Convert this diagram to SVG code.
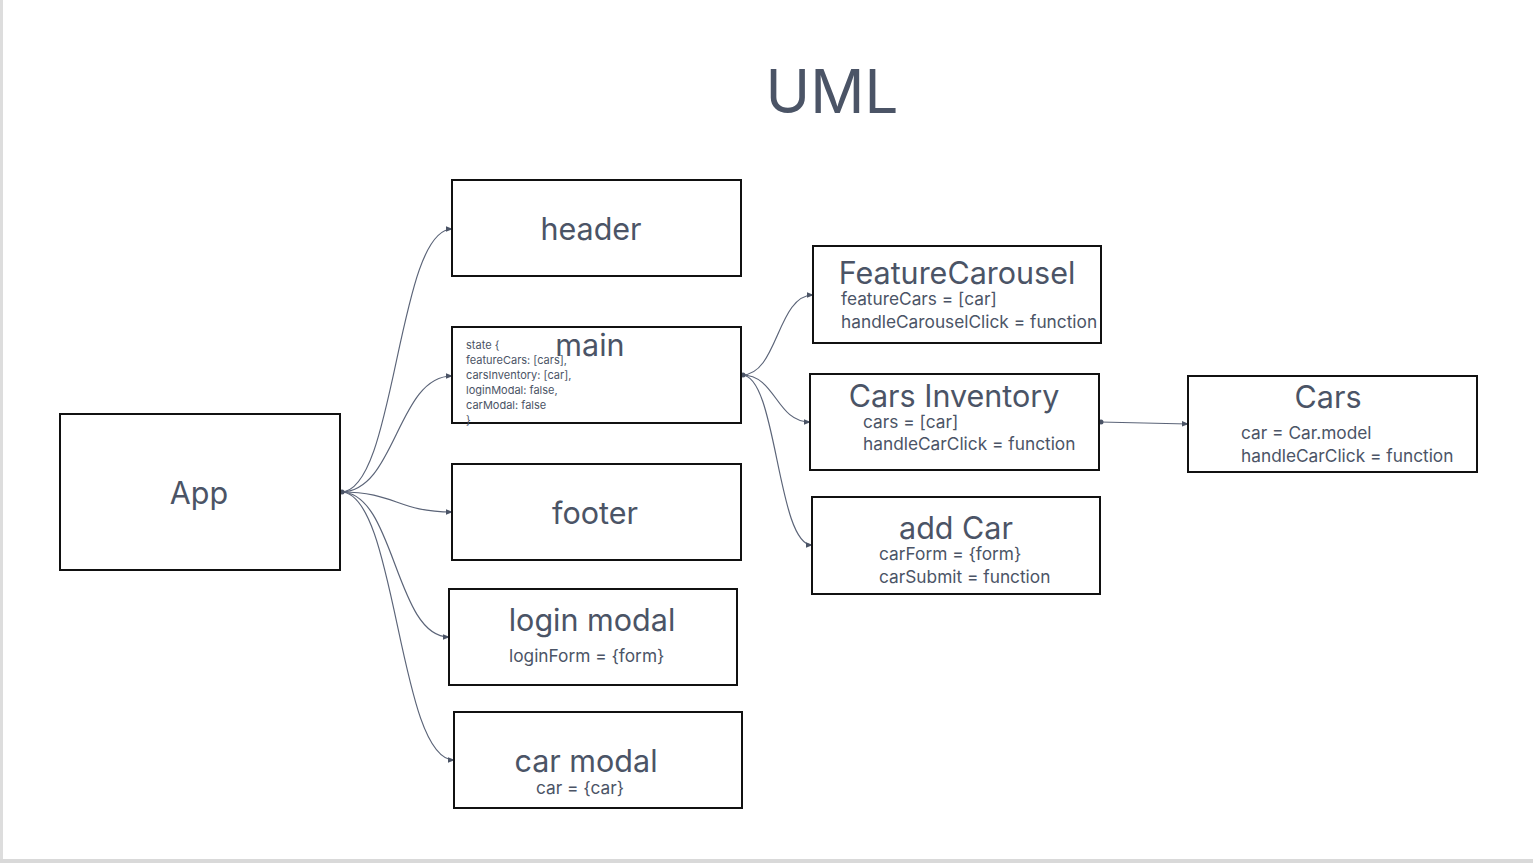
<svg xmlns="http://www.w3.org/2000/svg" width="1533" height="863" viewBox="0 0 1533 863">
<style>
.box{fill:#ffffff;stroke:#111111;stroke-width:2}
.t{font-family:Inter,"Liberation Sans",sans-serif;fill:#4b5466}
.ttl{font-size:30.5px;text-anchor:middle}
.sub{font-size:17.3px}
.st{font-size:11px}
.c{fill:none;stroke:#5b6478;stroke-width:1.2}
.dot{fill:#4b5466}
</style>
<defs>
<marker id="arr" viewBox="0 0 8 8" refX="7" refY="4" markerWidth="7" markerHeight="7" markerUnits="userSpaceOnUse" orient="auto">
<path d="M0,0.8 L8,4 L0,7.2 z" fill="#4b5466"/>
</marker>
</defs>
<rect x="0" y="0" width="1533" height="863" fill="#ffffff"/>
<rect x="0" y="0" width="3" height="863" fill="#dddddd"/>
<rect x="0" y="859" width="1533" height="4" fill="#d9d9d9"/>

<text class="t" x="832" y="113" font-size="60" text-anchor="middle">UML</text>

<g id="connectors">
<path class="c" d="M341,492 C396,492 397,229 452,229" marker-end="url(#arr)"/>
<path class="c" d="M341,492 C396,492 397,376 452,376" marker-end="url(#arr)"/>
<path class="c" d="M341,492 C396,492 397,512 452,512" marker-end="url(#arr)"/>
<path class="c" d="M341,492 C395,492 395,637 449,637" marker-end="url(#arr)"/>
<path class="c" d="M341,492 C397,492 398,760 454,760" marker-end="url(#arr)"/>
<circle class="dot" cx="342" cy="492" r="2.5"/>
<path class="c" d="M742,375 C778,375 777,295 813,295" marker-end="url(#arr)"/>
<path class="c" d="M742,375 C776,375 776,422 810,422" marker-end="url(#arr)"/>
<path class="c" d="M742,375 C777,375 777,545 812,545" marker-end="url(#arr)"/>
<circle class="dot" cx="743" cy="375" r="2.5"/>
<path class="c" d="M1100,422 L1188,424" marker-end="url(#arr)"/>
<circle class="dot" cx="1101" cy="422" r="2.5"/>
</g>

<g id="app">
<rect class="box" x="60" y="414" width="280" height="156"/>
<text class="t ttl" x="199" y="504">App</text>
</g>

<g id="header">
<rect class="box" x="452" y="180" width="289" height="96"/>
<text class="t ttl" x="591" y="240">header</text>
</g>

<g id="main">
<rect class="box" x="452" y="327" width="289" height="96"/>
<text class="t ttl" x="590" y="356">main</text>
<text class="t st" x="466" y="349">state {</text>
<text class="t st" x="466" y="364">featureCars: [cars],</text>
<text class="t st" x="466" y="379">carsInventory: [car],</text>
<text class="t st" x="466" y="394">loginModal: false,</text>
<text class="t st" x="466" y="409">carModal: false</text>
<text class="t st" x="466" y="424">}</text>
</g>

<g id="footer">
<rect class="box" x="452" y="464" width="289" height="96"/>
<text class="t ttl" x="595" y="524">footer</text>
</g>

<g id="login-modal">
<rect class="box" x="449" y="589" width="288" height="96"/>
<text class="t ttl" x="592" y="631">login modal</text>
<text class="t sub" x="509" y="662">loginForm = {form}</text>
</g>

<g id="car-modal">
<rect class="box" x="454" y="712" width="288" height="96"/>
<text class="t ttl" x="586" y="772">car modal</text>
<text class="t sub" x="580" y="794" text-anchor="middle">car = {car}</text>
</g>

<g id="feature-carousel">
<rect class="box" x="813" y="246" width="288" height="97"/>
<text class="t ttl" x="957" y="284">FeatureCarousel</text>
<text class="t sub" x="841" y="305">featureCars = [car]</text>
<text class="t sub" x="841" y="328">handleCarouselClick = function</text>
</g>

<g id="cars-inventory">
<rect class="box" x="810" y="374" width="289" height="96"/>
<text class="t ttl" x="954" y="407">Cars Inventory</text>
<text class="t sub" x="863" y="428">cars = [car]</text>
<text class="t sub" x="863" y="450">handleCarClick = function</text>
</g>

<g id="add-car">
<rect class="box" x="812" y="497" width="288" height="97"/>
<text class="t ttl" x="956" y="539">add Car</text>
<text class="t sub" x="879" y="560">carForm = {form}</text>
<text class="t sub" x="879" y="583">carSubmit = function</text>
</g>

<g id="cars">
<rect class="box" x="1188" y="376" width="289" height="96"/>
<text class="t ttl" x="1328" y="408">Cars</text>
<text class="t sub" x="1241" y="439">car = Car.model</text>
<text class="t sub" x="1241" y="462">handleCarClick = function</text>
</g>
</svg>
